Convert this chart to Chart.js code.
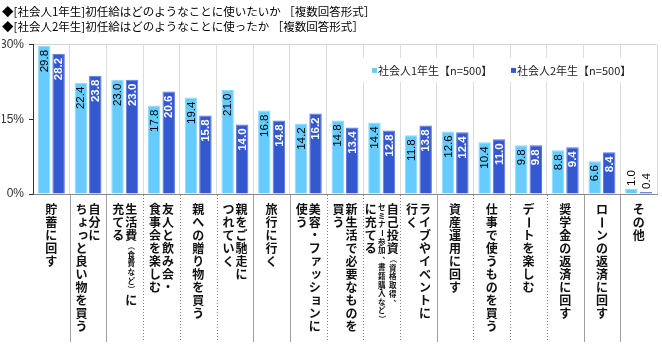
<!DOCTYPE html>
<html lang="ja">
<head>
<meta charset="utf-8">
<script src="https://cdn.jsdelivr.net/npm/chart.js@4.4.1/dist/chart.umd.min.js"></script>
<style>
  html, body { margin: 0; padding: 0; background: #fff; }
</style>
</head>
<body>
<canvas id="chart" width="662" height="346"></canvas>
<script>
  const titleLines = [
    '◆[社会人1年生]初任給はどのようなことに使いたいか ［複数回答形式］',
    '◆[社会人2年生]初任給はどのようなことに使ったか ［複数回答形式］',
  ];

  // vertical label columns, right to left; {...} = small text
  const categoryColumns = [
    ['貯蓄に回す'],
    ['自分に', 'ちょっと良い物を買う'],
    ['生活費{（食費など）}に', '充てる'],
    ['友人と飲み会・', '食事会を楽しむ'],
    ['親への贈り物を買う'],
    ['親をご馳走に', 'つれていく'],
    ['旅行に行く'],
    ['美容・ファッションに', '使う'],
    ['新生活で必要なものを', '買う'],
    ['自己投資{（資格取得、}', '{セミナー参加、書籍購入など）}', 'に充てる'],
    ['ライブやイベントに', '行く'],
    ['資産運用に回す'],
    ['仕事で使うものを買う'],
    ['デートを楽しむ'],
    ['奨学金の返済に回す'],
    ['ローンの返済に回す'],
    ['その他'],
  ];
  const categories = categoryColumns.map((cols) => cols.join('').replace(/[{}]/g, ''));

  const seriesNames = ['社会人1年生【n=500】', '社会人2年生【n=500】'];
  const year1 = [29.8, 22.4, 23.0, 17.8, 19.4, 21.0, 16.8, 14.2, 14.8, 14.4, 11.8, 12.6, 10.4, 9.8, 8.8, 6.6, 1.0];
  const year2 = [28.2, 23.8, 23.0, 20.6, 15.8, 14.0, 14.8, 16.2, 13.4, 12.8, 13.8, 12.4, 11.0, 9.8, 9.4, 8.4, 0.4];
  const yTicks = [0, 15, 30];

  const LIGHT = '#66CCFF';
  const DARK = '#3358D0';
  const JP = '"Noto Sans CJK JP", "Noto Sans CJK SC", sans-serif';
  const LATIN = '"Liberation Sans", Arial, sans-serif';

  const barLabels = {
    id: 'barLabels',
    afterDatasetsDraw(chart) {
      const { ctx } = chart;
      chart.data.datasets.forEach((ds, di) => {
        chart.getDatasetMeta(di).data.forEach((bar, i) => {
          const text = ds.data[i].toFixed(1);
          const inside = bar.base - bar.y > 25;
          ctx.save();
          ctx.translate(bar.x, bar.y);
          ctx.rotate(-Math.PI / 2);
          ctx.textBaseline = 'middle';
          ctx.font = (di === 1 ? 'bold ' : '') + '11.5px ' + LATIN;
          if (inside) {
            ctx.textAlign = 'right';
            ctx.fillStyle = di === 1 ? '#fff' : '#000';
            ctx.fillText(text, -4, 0.5);
          } else {
            ctx.textAlign = 'left';
            ctx.fillStyle = '#000';
            ctx.font = '11.5px ' + LATIN;
            ctx.fillText(text, 3, 0.5);
          }
          ctx.restore();
        });
      });
    },
  };

  const innerLegend = {
    id: 'innerLegend',
    beforeDatasetsDraw(chart) {
      const { ctx, chartArea } = chart;
      const top = chartArea.top;
      ctx.save();
      ctx.fillStyle = '#fff';
      ctx.fillRect(358, top + 13, 290, 24);
      const items = [
        { x: 372, color: LIGHT },
        { x: 511, color: DARK },
      ];
      ctx.font = '11px ' + JP;
      ctx.textBaseline = 'middle';
      ctx.textAlign = 'left';
      items.forEach((it, i) => {
        ctx.fillStyle = it.color;
        ctx.fillRect(it.x, top + 23, 5, 5);
        ctx.fillStyle = '#222';
        ctx.fillText(chart.data.datasets[i].label, it.x + 6, top + 25.5);
      });
      ctx.restore();
    },
  };

  const SMALL_KANA = 'ぁぃぅぇぉっゃゅょゎァィゥェォッャュョヮ';
  const ROTATED = 'ー（）－～';

  function drawVChar(ctx, ch, x, y, size) {
    if (ROTATED.includes(ch)) {
      ctx.save();
      ctx.translate(x, y);
      ctx.rotate(Math.PI / 2);
      ctx.fillText(ch, 0, 0);
      ctx.restore();
    } else if ('、。'.includes(ch)) {
      ctx.fillText(ch, x + size * 0.58, y - size * 0.55);
    } else if (SMALL_KANA.includes(ch)) {
      ctx.fillText(ch, x + size * 0.12, y - size * 0.12);
    } else {
      ctx.fillText(ch, x, y);
    }
  }

  function parseColumn(str) {
    const out = [];
    let small = false;
    for (const ch of str) {
      if (ch === '{') small = true;
      else if (ch === '}') small = false;
      else out.push({ ch, small });
    }
    return out;
  }

  const solidSeparators = new Set([1, 2, 6, 7, 11, 15, 16]);

  const verticalLabels = {
    id: 'verticalLabels',
    afterDraw(chart) {
      const { ctx } = chart;
      const xs = chart.scales.x;
      const axisY = xs.top;
      ctx.save();
      ctx.lineWidth = 1;
      for (let k = 1; k < categories.length; k++) {
        const bx = Math.round((xs.getPixelForValue(k - 1) + xs.getPixelForValue(k)) / 2) + 0.5;
        ctx.beginPath();
        if (solidSeparators.has(k)) {
          ctx.setLineDash([]);
          ctx.strokeStyle = '#a0a0a0';
        } else {
          ctx.setLineDash([1, 2]);
          ctx.strokeStyle = '#808080';
        }
        ctx.moveTo(bx, axisY + 1);
        ctx.lineTo(bx, 342);
        ctx.stroke();
      }
      ctx.setLineDash([]);

      const BIG = 12, SMALL = 7.5, BIG_PITCH = 13, SMALL_PITCH = 8.6;
      ctx.fillStyle = '#111';
      ctx.textAlign = 'center';
      ctx.textBaseline = 'middle';
      categoryColumns.forEach((cols, i) => {
        const cx = xs.getPixelForValue(i);
        const parsed = cols.map(parseColumn);
        const widths = parsed.map((p) => (p.every((t) => t.small) ? 9 : 13));
        const total = widths.reduce((a, b) => a + b, 0);
        let right = cx + total / 2;
        parsed.forEach((tokens, c) => {
          const colX = right - widths[c] / 2;
          right -= widths[c];
          let y = axisY + 9;
          tokens.forEach((t) => {
            const size = t.small ? SMALL : BIG;
            const pitch = t.small ? SMALL_PITCH : BIG_PITCH;
            ctx.font = 'bold ' + size + 'px ' + JP;
            drawVChar(ctx, t.ch, colX, y + pitch / 2, size);
            y += pitch;
          });
        });
      });
      ctx.restore();
    },
  };

  new Chart(document.getElementById('chart'), {
    type: 'bar',
    data: {
      labels: categories,
      datasets: [
        {
          label: seriesNames[0],
          data: year1,
          backgroundColor: LIGHT,
          borderColor: '#8fdbff',
          borderWidth: 1,
          categoryPercentage: 0.79,
          barPercentage: 0.86,
        },
        {
          label: seriesNames[1],
          data: year2,
          backgroundColor: DARK,
          borderColor: '#5c7ade',
          borderWidth: 1,
          categoryPercentage: 0.79,
          barPercentage: 0.86,
        },
      ],
    },
    options: {
      responsive: false,
      devicePixelRatio: 1,
      animation: false,
      layout: { padding: { left: 2, right: 5, top: 0, bottom: 0 } },
      plugins: {
        legend: { display: false },
        tooltip: { enabled: false },
        title: {
          display: true,
          text: titleLines,
          align: 'start',
          color: '#000',
          font: { family: JP, size: 11.5, weight: 'normal', lineHeight: 1.3 },
          padding: { top: 4, bottom: 11 },
        },
      },
      scales: {
        x: {
          ticks: { display: false },
          grid: { color: '#dcdcdc', drawTicks: false, offset: true },
          border: { color: '#888' },
          afterFit: (s) => { s.height = 152; },
        },
        y: {
          min: 0,
          max: 30,
          afterBuildTicks: (s) => { s.ticks = yTicks.map((v) => ({ value: v })); },
          ticks: {
            callback: (v) => `${v}%`,
            font: { family: LATIN, size: 12 },
            color: '#333',
            padding: 5,
          },
          grid: {
            color: (c) => (c.tick && c.tick.value === 30 ? '#d4d4d4' : 'rgba(0,0,0,0)'),
            tickColor: '#333',
            tickLength: 4,
          },
          border: { color: '#333' },
          afterFit: (s) => { s.width = 31; },
        },
      },
    },
    plugins: [innerLegend, barLabels, verticalLabels],
  });
</script>
</body>
</html>
